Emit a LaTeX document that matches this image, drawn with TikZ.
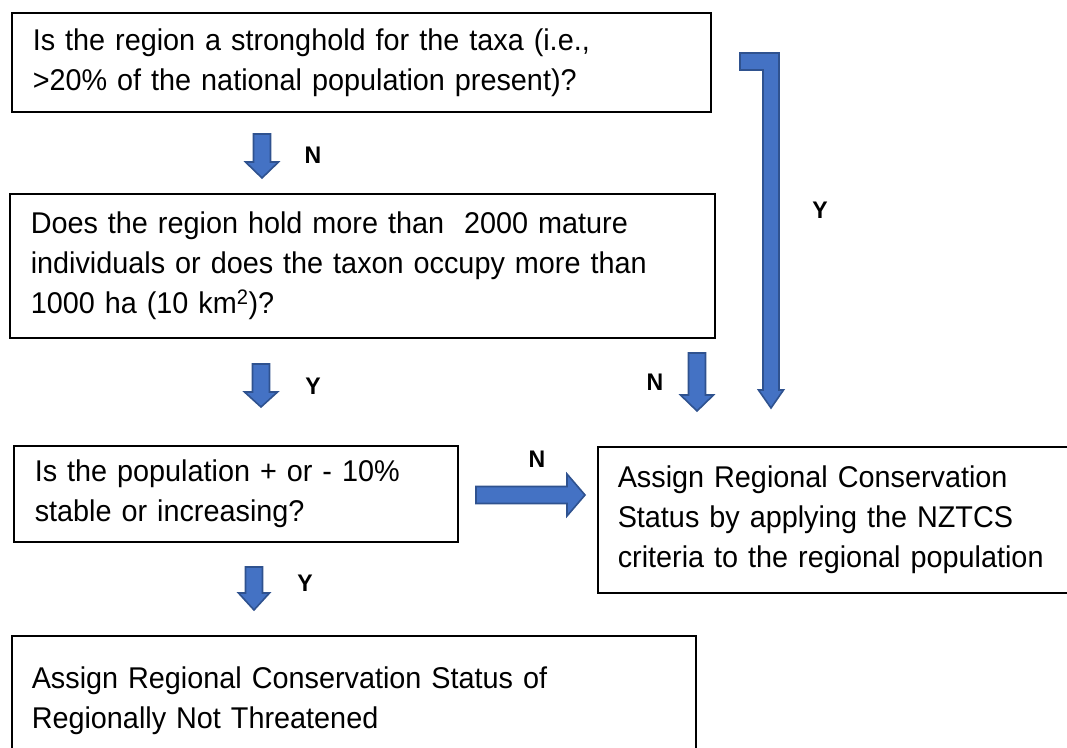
\documentclass[tikz,border=0pt]{standalone}
\usepackage{fontspec}
\setmainfont[FakeStretch=0.96]{Liberation Sans}
\usepackage{xcolor}
\definecolor{arrowBlue}{HTML}{4472C4}
\definecolor{arrowEdge}{HTML}{2F528F}
\usepackage{tikz}
\usetikzlibrary{positioning}
\tikzset{
    % Question and outcome boxes
    question/.style={
        rectangle,
        draw=black,
        line width=1.5pt,
        anchor=north west,
        align=left,
        inner xsep=21pt,
        inner ysep=0pt,
        font=\fontsize{30}{40}\selectfont,
    },
    % Block arrows between the boxes
    blockarrow/.style={
        fill=arrowBlue,
        draw=arrowEdge,
        line width=1.6pt,
        line join=miter,
    },
    % Y / N answers
    answer/.style={
        font=\fontsize{24}{24}\selectfont\bfseries,
        inner sep=0pt,
    },
}

\begin{document}
\begin{tikzpicture}[x=1pt, y=-1pt]
    \useasboundingbox (0,0) rectangle (1067,747);

    \node (stronghold) [question, text width=657pt, minimum height=99pt] at (11,12)
        {Is the region a stronghold for the taxa (i.e.,\\>20\% of the national population present)?};
    \node (size) [question, text width=663pt, minimum height=144pt] at (9,193)
        {Does the region hold more than \ 2000 mature\\individuals or does the taxon occupy more than\\1000 ha (10 km\textsuperscript{2})?};
    \node (trend) [question, text width=402pt, minimum height=96pt] at (13,445)
        {Is the population + or - 10\%\\stable or increasing?};
    \node (nztcs) [question, text width=480pt, minimum height=146pt, inner xsep=20pt] at (597,446)
        {Assign Regional Conservation\\Status by applying the NZTCS\\criteria to the regional population};
    \node (notthreatened) [question, text width=644pt, minimum height=130pt, inner xsep=20pt] at (11,635)
        {Assign Regional Conservation Status of\\Regionally Not Threatened};

    % arrows
    \coordinate (a1) at (262,134);
    \coordinate (a2) at (261,364);
    \coordinate (a3) at (254,567);
    \coordinate (a4) at (697,353);
    \coordinate (a5) at (476,495);
    \coordinate (a6) at (740,53);

    \draw [blockarrow] (a1) ++(-8.5,0) -- ++(17,0) -- ++(0,28) -- ++(8,0)
        -- ++(-16.5,16) -- ++(-16.5,-16) -- ++(8,0) -- cycle;
    \draw [blockarrow] (a2) ++(-8.5,0) -- ++(17,0) -- ++(0,28) -- ++(8,0)
        -- ++(-16.5,15) -- ++(-16.5,-15) -- ++(8,0) -- cycle;
    \draw [blockarrow] (a3) ++(-8.5,0) -- ++(17,0) -- ++(0,26) -- ++(7,0)
        -- ++(-15.5,17) -- ++(-15.5,-17) -- ++(7,0) -- cycle;
    \draw [blockarrow] (a4) ++(-8.5,0) -- ++(17,0) -- ++(0,42) -- ++(8,0)
        -- ++(-16.5,16) -- ++(-16.5,-16) -- ++(8,0) -- cycle;
    \draw [blockarrow] (a5) ++(0,-8.5) -- ++(91,0) -- ++(0,-12.5) -- ++(18,21)
        -- ++(-18,21) -- ++(0,-12.5) -- ++(-91,0) -- cycle;
    \draw [blockarrow] (a6) -- ++(39,0) -- ++(0,337) -- ++(4.5,0) -- ++(-12.5,18)
        -- ++(-12.5,-18) -- ++(4.5,0) -- ++(0,-320) -- ++(-23,0) -- cycle;

    % answers
    \node [answer] at (313,155) {N};
    \node [answer] at (313,386) {Y};
    \node [answer] at (305,583) {Y};
    \node [answer] at (655,382) {N};
    \node [answer] at (537,459) {N};
    \node [answer] at (820,210) {Y};
\end{tikzpicture}
\end{document}
